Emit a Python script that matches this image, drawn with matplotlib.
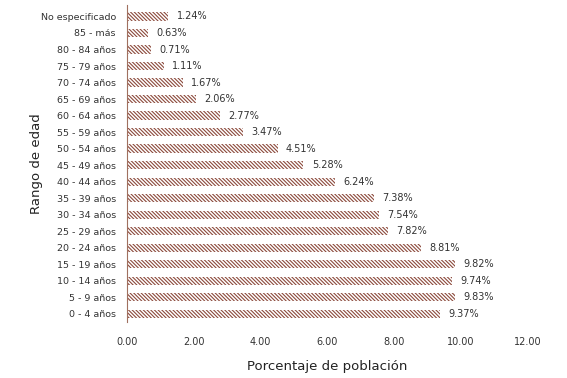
import numpy as np
import matplotlib.pyplot as plt

# Age groups, top to bottom as in the chart
groups = ['No especificado', '85 - más', '80 - 84 años', '75 - 79 años',
          '70 - 74 años', '65 - 69 años', '60 - 64 años', '55 - 59 años',
          '50 - 54 años', '45 - 49 años', '40 - 44 años', '35 - 39 años',
          '30 - 34 años', '25 - 29 años', '20 - 24 años', '15 - 19 años',
          '10 - 14 años', '5 - 9 años', '0 - 4 años']
pct = [1.24, 0.63, 0.71, 1.11, 1.67, 2.06, 2.77, 3.47, 4.51, 5.28,
       6.24, 7.38, 7.54, 7.82, 8.81, 9.82, 9.74, 9.83, 9.37]
xticks = [0, 2, 4, 6, 8, 10, 12]

brown = '#8c4a3c'
plt.rcParams['hatch.linewidth'] = 0.8
plt.rcParams['hatch.color'] = brown

fig = plt.figure(figsize=(5.67, 3.78), dpi=100)
ax = fig.add_axes([0.224, 0.148, 0.707, 0.839])

y = np.arange(len(groups))
bars = ax.barh(y, pct, height=0.5, color='none', edgecolor=brown,
               linewidth=0, hatch='\\' * 9)
for yi, v in zip(y, pct):
    ax.text(v + 0.25, yi, f'{v:.2f}%', va='center', ha='left',
            fontsize=7, color='#333333')

ax.set_ylim(len(groups) - 0.5, -0.7)
ax.set_xlim(0, 12)
ax.set_yticks(y)
ax.set_yticklabels(groups, fontsize=6.8, color='#333333')
ax.set_xticks(xticks)
ax.set_xticklabels([f'{t:.2f}' for t in xticks], fontsize=7, color='#333333')
ax.tick_params(axis='both', length=0)
ax.tick_params(axis='x', pad=11)
ax.tick_params(axis='y', pad=8)
for s in ['top', 'right', 'bottom']:
    ax.spines[s].set_visible(False)
ax.spines['left'].set_color('#a0705f')
ax.spines['left'].set_linewidth(0.8)

ax.set_xlabel('Porcentaje de población', fontsize=9.5, color='#222222', labelpad=9)
ax.set_ylabel('Rango de edad', fontsize=9.5, color='#222222')
ax.yaxis.set_label_coords(-0.21, 0.5)

fig.savefig('out.png', dpi=100)
